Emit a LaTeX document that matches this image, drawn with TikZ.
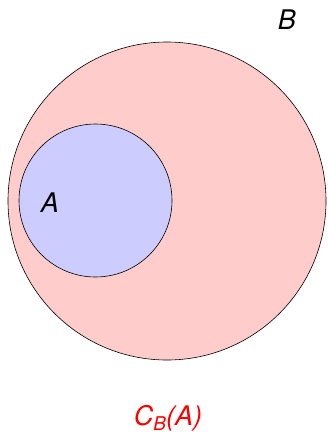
\documentclass[tikz,border=0pt]{standalone}
\usepackage{fontspec}
\setmainfont{TeX Gyre Heros}
\usepackage{tikz}
\usetikzlibrary{positioning}
\tikzset{
  setcirc/.style={circle, draw=black, line width=0.6pt, inner sep=0pt},
  setlabel/.style={font=\fontsize{27}{32}\selectfont\itshape, inner sep=0pt},
}

\begin{document}
\begin{tikzpicture}[x=1pt, y=-1pt]
  \useasboundingbox (0,0) rectangle (328,437);
  % sets
  \node[setcirc, fill=red!20, minimum size=318pt] (setB) at (167,201) {};
  \node[setcirc, fill=blue!20, minimum size=153pt] (setA) at (95.5,200.5) {};
  % labels
  \node[setlabel] (labA) at (50,203) {A};
  \node[setlabel] (labB) at (287,20) {B};
  \node[setlabel, text=red] (labC) at (168,418) {C\raisebox{-0.35ex}{\fontsize{19}{22}\selectfont B}(A)};
\end{tikzpicture}
\end{document}
